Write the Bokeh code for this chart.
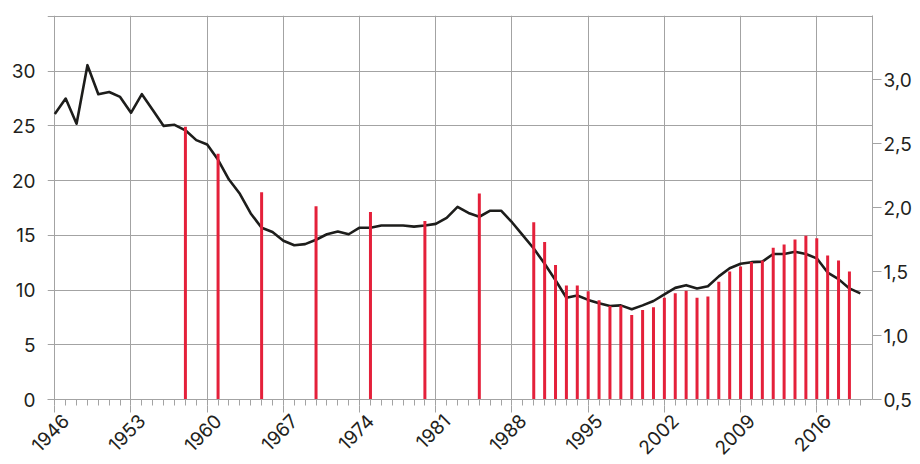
import math
from bokeh.plotting import figure
from bokeh.models import Range1d, LinearAxis, FixedTicker
from bokeh.embed import file_html
from bokeh.resources import INLINE

# ---- data ----
years = [1946, 1947, 1948, 1949, 1950, 1951, 1952, 1953, 1954, 1955,
         1956, 1957, 1958, 1959, 1960, 1961, 1962, 1963, 1964, 1965,
         1966, 1967, 1968, 1969, 1970, 1971, 1972, 1973, 1974, 1975,
         1976, 1977, 1978, 1979, 1980, 1981, 1982, 1983, 1984, 1985,
         1986, 1987, 1988, 1989, 1990, 1991, 1992, 1993, 1994, 1995,
         1996, 1997, 1998, 1999, 2000, 2001, 2002, 2003, 2004, 2005,
         2006, 2007, 2008, 2009, 2010, 2011, 2012, 2013, 2014, 2015,
         2016, 2017, 2018, 2019, 2020]
line_values = [26.1, 27.5, 25.2, 30.55, 27.9, 28.1, 27.65, 26.2, 27.9, 26.45,
               25.0, 25.1, 24.6, 23.7, 23.3, 21.9, 20.1, 18.8, 17.0, 15.7,
               15.3, 14.5, 14.1, 14.2, 14.6, 15.1, 15.35, 15.1, 15.7, 15.7,
               15.9, 15.9, 15.9, 15.8, 15.9, 16.05, 16.6, 17.6, 17.05, 16.7,
               17.25, 17.25, 16.2, 15.0, 13.8, 12.4, 10.9, 9.3, 9.5, 9.1,
               8.8, 8.55, 8.6, 8.25, 8.6, 9.0, 9.6, 10.2, 10.45, 10.15,
               10.35, 11.25, 12.0, 12.4, 12.55, 12.6, 13.3, 13.3, 13.5, 13.3,
               12.9, 11.6, 11.0, 10.15, 9.7]

bar_years = [1958, 1961, 1965, 1970, 1975, 1980, 1985,
             1990, 1991, 1992, 1993, 1994, 1995, 1996, 1997, 1998, 1999,
             2000, 2001, 2002, 2003, 2004, 2005, 2006, 2007, 2008, 2009,
             2010, 2011, 2012, 2013, 2014, 2015, 2016, 2017, 2018, 2019]
bar_values = [2.63, 2.42, 2.12, 2.01, 1.965, 1.895, 2.11,
              1.885, 1.73, 1.55, 1.39, 1.39, 1.345, 1.275, 1.23, 1.235, 1.16,
              1.20, 1.22, 1.295, 1.33, 1.35, 1.295, 1.305, 1.42, 1.50, 1.54,
              1.575, 1.585, 1.685, 1.71, 1.75, 1.78, 1.76, 1.625, 1.585, 1.50]
bar_base = 0.5

x_ticks = [1946, 1953, 1960, 1967, 1974, 1981, 1988, 1995, 2002, 2009, 2016]
x_labels = ["1946", "1953", "1960", "1967", "1974", "1981", "1988", "1995",
            "2002", "2009", "2016"]
left_ticks = [0, 5, 10, 15, 20, 25, 30]
grid_ticks = [0, 5, 10, 15, 20, 25, 30, 35]
right_ticks = [0.5, 1.0, 1.5, 2.0, 2.5, 3.0]
right_labels = ["0,5", "1,0", "1,5", "2,0", "2,5", "3,0"]

# ---- style ----
FONT = "Inter"
FSIZE = "19px"
TXT = "#231f20"
GRID = "#a3a3a3"
RED = "#e4203a"
LABEL_SHIFT = 1.0   # rotated year labels sit slightly right of their tick

p = figure(width=920, height=464, output_backend="svg", toolbar_location=None,
           x_range=Range1d(1945.33, 2021.12), y_range=Range1d(0, 35.09),
           min_border_left=47, min_border_right=48, min_border_top=15,
           min_border_bottom=65)
p.extra_y_ranges = {"right": Range1d(0.5, 3.5)}
p.outline_line_color = None
p.background_fill_color = "white"
p.border_fill_color = "white"

# grid
p.xgrid.ticker = FixedTicker(ticks=x_ticks)
p.ygrid.ticker = FixedTicker(ticks=grid_ticks)
p.grid.grid_line_color = GRID
p.grid.grid_line_width = 1

# bottom axis: axis line + short yearly ticks
xa = p.xaxis[0]
xa.ticker = FixedTicker(ticks=[], minor_ticks=years)
xa.axis_line_color = GRID
xa.major_tick_line_color = None
xa.major_tick_in = 0
xa.major_tick_out = 6
xa.minor_tick_line_color = GRID
xa.minor_tick_in = 0
xa.minor_tick_out = 6

# second bottom axis (stacked below): continues the ticks at the 7-year
# marks and carries the rotated year labels
label_pos = [t + LABEL_SHIFT for t in x_ticks]
xl = LinearAxis(ticker=FixedTicker(ticks=label_pos, minor_ticks=x_ticks),
                major_label_overrides=dict(zip(label_pos, x_labels)))
xl.axis_line_color = None
xl.major_tick_line_color = None
xl.major_tick_in = 0
xl.major_tick_out = 7
xl.minor_tick_line_color = GRID
xl.minor_tick_in = 0
xl.minor_tick_out = 7
xl.major_label_orientation = math.pi / 4
xl.major_label_standoff = 5
xl.major_label_text_font = FONT
xl.major_label_text_font_size = FSIZE
xl.major_label_text_color = TXT
p.add_layout(xl, "below")

# left axis
ya = p.yaxis[0]
ya.ticker = FixedTicker(ticks=left_ticks)
ya.axis_line_color = None
ya.major_tick_line_color = None
ya.minor_tick_line_color = None
ya.major_tick_in = 0
ya.major_tick_out = 0
ya.major_label_standoff = 12
ya.major_label_text_font = FONT
ya.major_label_text_font_size = FSIZE
ya.major_label_text_color = TXT

# right axis
ra = LinearAxis(y_range_name="right",
                ticker=FixedTicker(ticks=right_ticks),
                major_label_overrides=dict(zip(right_ticks, right_labels)))
ra.axis_line_color = GRID
ra.major_tick_line_color = GRID
ra.minor_tick_line_color = None
ra.major_tick_in = 0
ra.major_tick_out = 9
ra.major_label_standoff = 2
ra.major_label_text_font = FONT
ra.major_label_text_font_size = FSIZE
ra.major_label_text_color = TXT
p.add_layout(ra, "right")

# line (left axis)
p.line(years, line_values, line_color="#1d1d1b", line_width=2.6,
       line_join="round")

# bars (right axis), drawn on top of the line
p.segment(x0=bar_years, y0=[bar_base] * len(bar_years), x1=bar_years,
          y1=bar_values, y_range_name="right", line_color=RED,
          line_width=3, line_cap="butt")

open("out.html", "w").write(file_html(p, INLINE))
